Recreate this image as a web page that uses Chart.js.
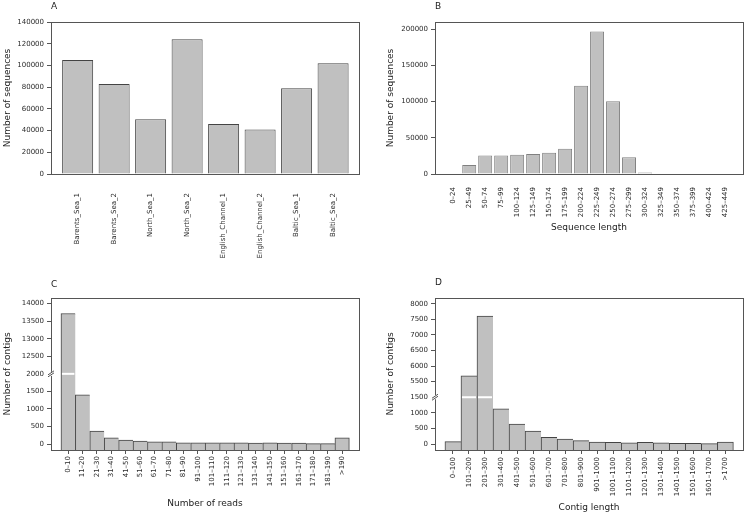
<!DOCTYPE html>
<html>
<head>
<meta charset="utf-8">
<script src="https://cdn.jsdelivr.net/npm/chart.js@4/dist/chart.umd.min.js"></script>
<style>
  html, body { margin: 0; padding: 0; background: #fff; }
  body { width: 747px; height: 516px; position: relative; overflow: hidden; }
  canvas { position: absolute; }
</style>
</head>
<body>
<canvas id="cA" width="373" height="258" style="left:0;top:0"></canvas>
<canvas id="cB" width="374" height="258" style="left:373px;top:0"></canvas>
<canvas id="cC" width="373" height="258" style="left:0;top:258px"></canvas>
<canvas id="cD" width="374" height="258" style="left:373px;top:258px"></canvas>
<script>
// ---------- DATA ----------
const sitesA = ['Barents_Sea_1','Barents_Sea_2','North_Sea_1','North_Sea_2','English_Channel_1','English_Channel_2','Baltic_Sea_1','Baltic_Sea_2'];
const seqCountsA = [105000, 83000, 50500, 124000, 46000, 41000, 79000, 102000];
const yTicksA = [0, 20000, 40000, 60000, 80000, 100000, 120000, 140000];

const lengthBinsB = ['0–24','25–49','50–74','75–99','100–124','125–149','150–174','175–199','200–224','225–249','250–274','275–299','300–324','325–349','350–374','375–399','400–424','425–449'];
const seqCountsB = [0, 12500, 25500, 25500, 26500, 27500, 29500, 35000, 122000, 197000, 100500, 23000, 2000, 0, 0, 0, 0, 0];
const yTicksB = [0, 50000, 100000, 150000, 200000];

const readBinsC = ['0–10','11–20','21–30','31–40','41–50','51–60','61–70','71–80','81–90','91–100','101–110','111–120','121–130','131–140','141–150','151–160','161–170','171–180','181–190','>190'];
const contigCountsC = [13720, 1400, 365, 175, 115, 85, 60, 60, 35, 35, 35, 35, 35, 25, 35, 25, 25, 12, 12, 175];
const yTicksC = [0, 500, 1000, 1500, 2000, 12500, 13000, 13500, 14000];
const breakC = { at: 2000, gap: 10000 };   // axis break: values above 2000 shifted down by 10000

const lengthBinsD = ['0–100','101–200','201–300','301–400','401–500','501–600','601–700','701–800','801–900','901–1000','1001–1100','1101–1200','1201–1300','1301–1400','1401–1500','1501–1600','1601–1700','>1700'];
const contigCountsD = [75, 5690, 7600, 1125, 640, 415, 215, 160, 110, 65, 55, 35, 55, 35, 22, 22, 10, 65];
const yTicksD = [0, 500, 1000, 1500, 5500, 6000, 6500, 7000, 7500, 8000];
const breakD = { at: 1500, gap: 3500 };    // axis break: values above 1500 shifted down by 3500

// ---------- STYLE ----------
Chart.defaults.font.family = "'DejaVu Sans', Verdana, sans-serif";
Chart.defaults.font.size = 7;
Chart.defaults.color = '#2a2a2a';
const AXIS = '#555';
const FILL = '#c0c0c0';

const toDisp = (v, br) => br && v > br.at ? v - br.gap : v;
const fromDisp = (v, br) => br && v > br.at ? v + br.gap : v;

const breakPlugin = {
  id: 'axisBreak',
  afterDatasetsDraw(chart, args, opts) {
    if (!opts || opts.value === undefined) return;
    const ctx = chart.ctx;
    const y = chart.scales.y.getPixelForValue(opts.value);
    const meta = chart.getDatasetMeta(0);
    ctx.save();
    ctx.strokeStyle = '#fff';
    ctx.lineWidth = 2;
    (opts.bars || []).forEach(i => {
      const el = meta.data[i];
      const w = el.width;
      ctx.beginPath();
      ctx.moveTo(el.x - w / 2 + 1, y);
      ctx.lineTo(el.x + w / 2 - 1, y);
      ctx.stroke();
    });
    // break mark on the axis
    const x = chart.chartArea.left;
    ctx.fillStyle = '#fff';
    ctx.fillRect(x - 4, y - 2, 8, 4);
    ctx.strokeStyle = AXIS;
    ctx.lineWidth = 1;
    ctx.beginPath();
    ctx.moveTo(x - 3, y + 1); ctx.lineTo(x + 3, y - 3);
    ctx.moveTo(x - 3, y + 3); ctx.lineTo(x + 3, y - 1);
    ctx.stroke();
    ctx.restore();
  }
};

function makeChart(id, cfg) {
  const n = cfg.labels.length;
  const br = cfg.brk;
  const data = cfg.values.map((v, i) => ({ x: i, y: toDisp(v, br) }));
  const ticksY = cfg.yTicks.map(t => toDisp(t, br));
  const adjacent = cfg.barPct === 1;
  return new Chart(document.getElementById(id), {
    type: 'bar',
    data: {
      datasets: [{
        data,
        xAxisID: 'x', yAxisID: 'y',
        backgroundColor: FILL,
        borderColor: cfg.barBorder,
        borderWidth: adjacent
          ? (c => ({ top: 1, left: 1, right: c.dataIndex === n - 1 ? 1 : 0, bottom: 0 }))
          : 1,
        borderSkipped: 'start',
        barPercentage: cfg.barPct,
        categoryPercentage: 1,
        base: cfg.yMin
      }]
    },
    plugins: [breakPlugin],
    options: {
      responsive: false,
      animation: false,
      devicePixelRatio: 1,
      layout: { padding: { left: 0, top: 0, bottom: 0, right: cfg.padRight } },
      plugins: {
        legend: { display: false },
        tooltip: { enabled: false },
        axisBreak: br ? { value: br.at, bars: cfg.breakBars } : {}
      },
      scales: {
        x: {
          type: 'linear', position: 'bottom',
          min: cfg.xMin, max: cfg.xMax, offset: false,
          afterBuildTicks: s => { s.ticks = cfg.labels.map((_, i) => ({ value: i })); },
          afterFit: s => { s.height = cfg.xHeight; },
          grid: { display: cfg.xTickMarks, drawOnChartArea: false, offset: false, tickLength: 4, color: AXIS },
          border: { display: true, color: AXIS, width: 1 },
          ticks: {
            autoSkip: false, minRotation: 90, maxRotation: 90, padding: cfg.xTickPad,
            callback: v => cfg.labels[v]
          },
          title: cfg.xTitle ? {
            display: true, text: cfg.xTitle, font: { size: 9 }, color: '#222',
            padding: { top: 0, bottom: cfg.xTitlePad }
          } : { display: false }
        },
        y: {
          type: 'linear', position: 'left',
          min: cfg.yMin, max: cfg.yMax,
          afterBuildTicks: s => { s.ticks = ticksY.map(v => ({ value: v })); },
          afterFit: s => { s.width = cfg.yWidth; },
          grid: { display: true, drawOnChartArea: false, tickLength: 4, color: AXIS },
          border: { display: true, color: AXIS, width: 1 },
          ticks: { padding: 3, callback: v => String(fromDisp(v, br)) },
          title: {
            display: true, text: cfg.yTitle, font: { size: 9 }, color: '#222',
            padding: { top: cfg.yTitlePad, bottom: 0 }
          }
        },
        x2: {
          type: 'linear', position: 'top', display: true,
          afterFit: s => { s.height = cfg.topHeight; },
          grid: { display: false },
          border: { display: true, color: AXIS, width: 1 },
          ticks: { display: false },
          title: {
            display: true, text: cfg.letter, align: 'start', font: { size: 9 }, color: '#222',
            padding: { top: cfg.letterPad, bottom: 0 }
          }
        },
        y2: {
          type: 'linear', position: 'right', display: true,
          afterFit: s => { s.width = 0; },
          grid: { display: false },
          border: { display: true, color: AXIS, width: 1 },
          ticks: { display: false }
        }
      }
    }
  });
}

makeChart('cA', {
  labels: sitesA, values: seqCountsA, yTicks: yTicksA, letter: 'A',
  yTitle: 'Number of sequences', xTitle: null,
  xMin: -0.73, xMax: 7.71, barPct: 0.85, barBorder: '#444',
  yMin: 0, yMax: 140000, yWidth: 51, xHeight: 84, topHeight: 22, padRight: 14,
  xTickMarks: false, xTickPad: 15, yTitlePad: 2, letterPad: 1.3
});

makeChart('cB', {
  labels: lengthBinsB, values: seqCountsB, yTicks: yTicksB, letter: 'B',
  yTitle: 'Number of sequences', xTitle: 'Sequence length',
  xMin: -1.14, xMax: 18.13, barPct: 0.875, barBorder: '#808080',
  yMin: 0, yMax: 210000, yWidth: 62, xHeight: 84, topHeight: 22, padRight: 4,
  xTickMarks: false, xTickPad: 9, xTitlePad: 24.6, yTitlePad: 12, letterPad: 1.3
});

makeChart('cC', {
  labels: readBinsC, values: contigCountsC, yTicks: yTicksC, letter: 'C', brk: breakC, breakBars: [0],
  yTitle: 'Number of contigs', xTitle: 'Number of reads',
  xMin: -1.19, xMax: 20.17, barPct: 1, barBorder: '#444',
  yMin: -171, yMax: 4162, yWidth: 51, xHeight: 66, topHeight: 40, padRight: 14,
  xTickMarks: true, xTickPad: 2, xTitlePad: 6.6, yTitlePad: 2, letterPad: 21
});

makeChart('cD', {
  labels: lengthBinsD, values: contigCountsD, yTicks: yTicksD, letter: 'D', brk: breakD, breakBars: [1, 2],
  yTitle: 'Number of contigs', xTitle: 'Contig length',
  xMin: -1.12, xMax: 18.1, barPct: 1, barBorder: '#444',
  yMin: -192, yMax: 4683, yWidth: 62, xHeight: 66, topHeight: 40, padRight: 4,
  xTickMarks: true, xTickPad: 3, xTitlePad: 3, yTitlePad: 12.6, letterPad: 19.6
});
</script>
</body>
</html>
